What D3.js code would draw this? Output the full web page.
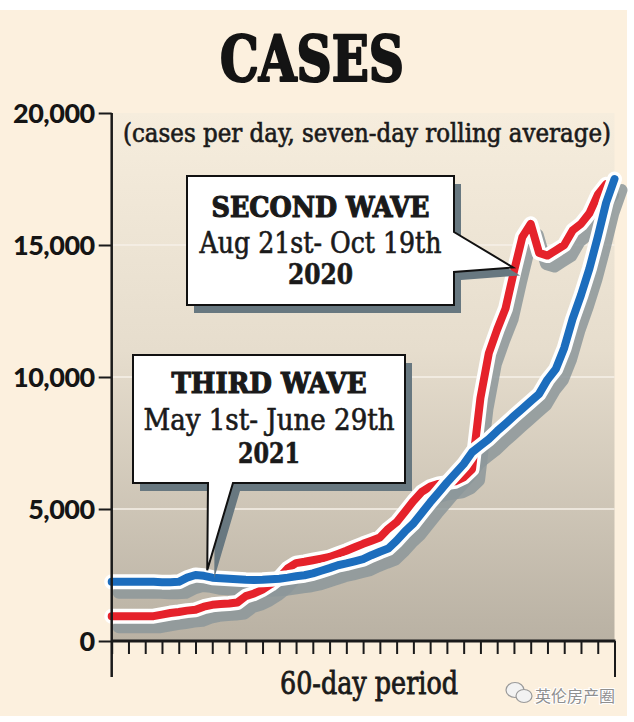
<!DOCTYPE html>
<html><head><meta charset="utf-8">
<script src="https://cdn.jsdelivr.net/npm/d3@7"></script>
<style>html,body{margin:0;padding:0;background:#fff}</style>
</head><body>
<svg id="c" width="634" height="722"></svg>
<script>
const days = d3.range(61);
const blueValues = [2240,2240,2240,2240,2240,2240,2230,2230,2240,2400,2500,2470,2400,2380,2360,2340,2320,2310,2320,2340,2360,2400,2450,2490,2560,2660,2760,2870,2940,3020,3100,3250,3380,3500,3800,4150,4450,4850,5250,5620,6000,6350,6700,7150,7400,7650,7950,8230,8520,8800,9080,9360,9900,10300,11100,12200,13100,14100,15300,16600,17500];
const redValues = [940,940,940,940,940,940,1000,1060,1100,1150,1180,1300,1370,1400,1420,1460,1700,1800,1950,2150,2400,2750,2950,3000,3060,3120,3180,3300,3420,3550,3680,3800,3920,4250,4500,4900,5300,5650,5850,5950,6000,6050,6200,6500,9200,10900,11800,12600,14000,15300,15800,14700,14600,14800,15000,15550,15800,16200,16900,17300];
const yTicks = [0,5000,10000,15000,20000];
const xTicks = d3.range(0,61,2);
const titleText = "CASES";
const subtitleText = "(cases per day, seven-day rolling average)";
const xLabel = "60-day period";
const second = ["SECOND WAVE","Aug 21st- Oct 19th","2020"];
const third = ["THIRD WAVE","May 1st- June 29th","2021"];

const svg = d3.select("#c");
const x = d3.scaleLinear().domain([0,60]).range([111.7,614.5]);
const y = d3.scaleLinear().domain([0,20000]).range([641,113]);
const slab = "'DejaVu Serif Condensed','DejaVu Serif',serif";

svg.append("rect").attr("x",0).attr("y",10).attr("width",627).attr("height",706).attr("fill","#fcf0de");

const defs = svg.append("defs");
const g = defs.append("linearGradient").attr("id","bg").attr("x1",0).attr("x2",0).attr("y1",0).attr("y2",1);
g.append("stop").attr("offset","0%").attr("stop-color","#f6eddd");
g.append("stop").attr("offset","45%").attr("stop-color","#e6ddcd");
g.append("stop").attr("offset","100%").attr("stop-color","#b9b1a3");
svg.append("rect").attr("x",x(0)).attr("y",y(20000)).attr("width",x(60)-x(0)).attr("height",y(0)-y(20000)).attr("fill","url(#bg)");

svg.append("g").selectAll("line").data(yTicks.filter(d=>d>0&&d<20000)).join("line")
  .attr("x1",x(0)).attr("x2",x(60)).attr("y1",d=>y(d)).attr("y2",d=>y(d))
  .attr("stroke","#f6f1e8").attr("stroke-width",1.5);

// title
svg.append("text").attr("x",312).attr("y",81).attr("text-anchor","middle")
  .attr("font-family",slab).attr("font-weight","900").attr("font-size",64)
  .attr("textLength",184).attr("lengthAdjust","spacingAndGlyphs").attr("fill","#141414")
  .attr("stroke","#141414").attr("stroke-width",2.2).attr("stroke-linejoin","round").text(titleText);
svg.append("text").attr("x",367).attr("y",142).attr("text-anchor","middle")
  .attr("font-family",slab).attr("font-size",26)
  .attr("textLength",488).attr("lengthAdjust","spacingAndGlyphs").attr("fill","#1a1a1a")
  .attr("stroke","#1a1a1a").attr("stroke-width",0.6).text(subtitleText);

// lines
const line = d3.line().x((d,i)=>x(days[i])).y(d=>y(d));
const series = [{v:redValues,c:"#e5222b"},{v:blueValues,c:"#1c6dbd"}];
const sh = svg.append("g").attr("transform","translate(7,11)");
series.forEach(s=>{
  sh.append("path").attr("d",line(s.v)).attr("fill","none").attr("stroke","#8c969a").attr("stroke-width",12)
    .attr("stroke-linejoin","round").attr("stroke-linecap","round").attr("opacity",0.85);
});
series.forEach(s=>{
  svg.append("path").attr("d",line(s.v)).attr("fill","none").attr("stroke","#fff").attr("stroke-width",15)
    .attr("stroke-linejoin","round").attr("stroke-linecap","round");
  svg.append("path").attr("d",line(s.v)).attr("fill","none").attr("stroke",s.c).attr("stroke-width",8)
    .attr("stroke-linejoin","round").attr("stroke-linecap","round");
});

// callouts
function callout(pts, lines, cx, bases, widths){
  const poly = pts.map(p=>p.join(",")).join(" ");
  svg.append("polygon").attr("points",poly).attr("fill","#687880").attr("transform","translate(7,8)");
  svg.append("polygon").attr("points",poly).attr("fill","#fff").attr("stroke","#111").attr("stroke-width",2).attr("stroke-linejoin","miter");
  lines.forEach((t,i)=>{
    svg.append("text").attr("x",cx).attr("y",bases[i]).attr("text-anchor","middle")
      .attr("font-family",slab).attr("font-weight",i===1?"normal":"bold").attr("font-size",i===1?29:28)
      .attr("textLength",widths[i]).attr("lengthAdjust","spacingAndGlyphs").attr("fill","#1a1a1a")
      .attr("stroke","#1a1a1a").attr("stroke-width",i===0?1.1:0.6).text(t);
  });
}
const tip2=[x(47.9),y(14150)];
callout([[187,176],[454,176],[454,232],tip2,[454,272],[454,305],[187,305]], second, 320.5, [217,253,284],[218,242,65]);
const tip3=[x(11.4),y(2680)];
callout([[133,355],[405,355],[405,483],[233,483],tip3,[208,483],[133,483]], third, 269, [393,430,463],[195,251,62]);

// axes
const ya = svg.append("g").attr("transform",`translate(${x(0)},0)`)
  .call(d3.axisLeft(y).tickValues(yTicks).tickFormat(d3.format(",")).tickSize(13).tickPadding(4));
ya.select(".domain").remove();
ya.selectAll(".tick line").attr("stroke","#1a1a1a").attr("stroke-width",2);
ya.selectAll("text").attr("font-family","Lato, 'Open Sans', sans-serif").attr("font-weight",900).attr("font-size",27)
  .attr("letter-spacing",-0.5).attr("fill","#151515").attr("dy","0.35em");
svg.append("line").attr("x1",x(0)).attr("x2",x(0)).attr("y1",y(20000)).attr("y2",677).attr("stroke","#1a1a1a").attr("stroke-width",2.5);

const xa = svg.append("g").attr("transform",`translate(0,${y(0)})`)
  .call(d3.axisBottom(x).tickValues(xTicks).tickFormat("").tickSize(13));
xa.select(".domain").remove();
xa.selectAll(".tick line").attr("stroke","#1a1a1a").attr("stroke-width",2)
  .attr("y2",d=>(d===60?36:13));
svg.append("line").attr("x1",x(0)).attr("x2",x(60)+1).attr("y1",y(0)).attr("y2",y(0)).attr("stroke","#1a1a1a").attr("stroke-width",3);

svg.append("text").attr("x",369).attr("y",694).attr("text-anchor","middle")
  .attr("font-family",slab).attr("font-size",32)
  .attr("textLength",178).attr("lengthAdjust","spacingAndGlyphs").attr("fill","#1a1a1a")
  .attr("stroke","#1a1a1a").attr("stroke-width",0.8).text(xLabel);

// watermark
const wm = svg.append("g").attr("fill","#f2f2f2").attr("stroke","#9a9a9a").attr("stroke-width",1.2);
wm.append("ellipse").attr("cx",515).attr("cy",690).attr("rx",9).attr("ry",7.5);
wm.append("ellipse").attr("cx",524).attr("cy",696).attr("rx",8).attr("ry",6.5);
svg.append("text").attr("x",575).attr("y",702).attr("text-anchor","middle")
  .attr("font-family","'Noto Sans CJK SC',sans-serif").attr("font-size",16)
  .attr("fill","#8f8f8f").attr("stroke","#fff").attr("stroke-width",2).attr("paint-order","stroke").text("英伦房产圈");
</script>
</body></html>
